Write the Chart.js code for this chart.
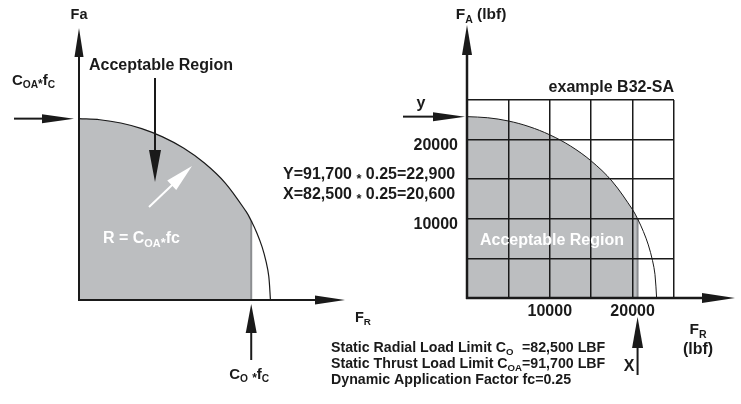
<!DOCTYPE html>
<html>
<head>
<meta charset="utf-8">
<title>Static load limits</title>
<script src="https://cdn.jsdelivr.net/npm/chart.js@4.4.1/dist/chart.umd.min.js"></script>
<style>
  body { margin: 0; background: #fff; }
  #wrap { position: relative; width: 741px; height: 404px; }
  canvas { position: absolute; left: 0; top: 0; }
</style>
</head>
<body>
<div id="wrap">
  <canvas id="sketchChart" width="741" height="404"></canvas>
  <canvas id="exampleChart" width="741" height="404"></canvas>
</div>
<script>
// limit curve, radial load F_R vs thrust load F_A (lbf)
const arcRadial = [0, 2500, 5000, 7500, 10000, 12500, 15000, 17500, 20000, 20600, 21300, 21900, 22400, 22700, 22900];
const arcAxial  = [22900, 22760, 22350, 21640, 20600, 19190, 17300, 14770, 11150, 10000, 8400, 6700, 4750, 3000, 0];

// B32-SA limits
const limitRadial = 20600;   // X = 82,500 * 0.25
const limitAxial = 22900;    // Y = 91,700 * 0.25

const radialTicks = [10000, 20000];
const axialTicks = [10000, 20000];

const INK = '#1a1a1a';
const SHADE = '#bcbec0';
const EDGE = '#8c8e91';
const FONT = '"Liberation Sans", Arial, Helvetica, sans-serif';

const arcPoints = arcRadial.map((x, i) => ({ x: x, y: arcAxial[i] }));
const shadedPoints = arcPoints.filter(p => p.x <= limitRadial);
const edgePoints = [{ x: limitRadial, y: 0 }, shadedPoints[shadedPoints.length - 1]];

function fontOf(size) {
  return 'bold ' + size + 'px ' + FONT;
}

// text with sub/superscript pieces: {t, s: scale, dy: shift in em}
function drawRich(ctx, parts, x, y, size, align, color) {
  let w = richWidth(ctx, parts, size);
  let cx = align === 'center' ? x - w / 2 : align === 'right' ? x - w : x;
  ctx.fillStyle = color;
  ctx.textAlign = 'left';
  ctx.textBaseline = 'middle';
  parts.forEach(p => {
    ctx.font = fontOf(size * (p.s || 1));
    ctx.fillText(p.t, cx, y + (p.dy || 0) * size);
    cx += ctx.measureText(p.t).width;
  });
  return w;
}

function richWidth(ctx, parts, size) {
  let w = 0;
  parts.forEach(p => { ctx.font = fontOf(size * (p.s || 1)); w += ctx.measureText(p.t).width; });
  return w;
}

const sub = t => ({ t: t, s: 0.68, dy: 0.3 });
const star = { t: '*', s: 0.8, dy: 0.25 };

function arrow(ctx, x1, y1, x2, y2, head, half, color, lw) {
  const a = Math.atan2(y2 - y1, x2 - x1);
  const bx = x2 - head * Math.cos(a), by = y2 - head * Math.sin(a);
  ctx.strokeStyle = color;
  ctx.lineWidth = lw;
  ctx.beginPath();
  ctx.moveTo(x1, y1);
  ctx.lineTo(bx + 2 * Math.cos(a), by + 2 * Math.sin(a));
  ctx.stroke();
  ctx.fillStyle = color;
  ctx.beginPath();
  ctx.moveTo(x2, y2);
  ctx.lineTo(bx - half * Math.sin(a), by + half * Math.cos(a));
  ctx.lineTo(bx + half * Math.sin(a), by - half * Math.cos(a));
  ctx.closePath();
  ctx.fill();
}

function limitDatasets(arcWidth) {
  return [
    { data: arcPoints, showLine: true, borderColor: INK, borderWidth: arcWidth,
      pointRadius: 0, tension: 0.35, fill: false, order: 1 },
    { data: edgePoints, showLine: true, borderColor: EDGE, borderWidth: 2,
      pointRadius: 0, tension: 0, fill: false, order: 2 },
    { data: shadedPoints, showLine: true, borderColor: 'rgba(0,0,0,0)', borderWidth: 0,
      pointRadius: 0, tension: 0.35, fill: 'origin', backgroundColor: SHADE, order: 3 }
  ];
}

const baseOptions = {
  responsive: false,
  animation: false,
  events: [],
  plugins: { legend: { display: false }, tooltip: { enabled: false } }
};

// left: general sketch of the acceptable region
const sketchNotes = {
  id: 'sketchNotes',
  afterDraw(chart) {
    const ctx = chart.ctx;
    const sx = chart.scales.x, sy = chart.scales.y;
    const x0 = sx.getPixelForValue(0), y0 = sy.getPixelForValue(0);
    const xLim = sx.getPixelForValue(limitRadial), yLim = sy.getPixelForValue(limitAxial);
    ctx.save();
    arrow(ctx, x0, y0 + 1, x0, 28, 29, 4.5, INK, 2);
    arrow(ctx, x0 - 1, y0, 345, y0, 30, 4.5, INK, 2);
    drawRich(ctx, [{ t: 'Fa' }], x0, 15, 14.5, 'center', INK);
    drawRich(ctx, [{ t: 'F' }, sub('R')], 355, 318, 14.5, 'left', INK);

    drawRich(ctx, [{ t: 'C' }, sub('OA'), star, { t: 'f' }, sub('C')], 12, 81, 15, 'left', INK);
    arrow(ctx, 14, yLim, x0 - 5, yLim, 32, 4.5, INK, 2);

    drawRich(ctx, [{ t: 'Acceptable Region' }], 161, 66, 16, 'center', INK);
    arrow(ctx, 155, 78, 155, 182, 32, 6, INK, 2);

    arrow(ctx, 149, 207, 192, 166, 28, 6.5, '#ffffff', 2);
    drawRich(ctx, [{ t: 'R = C' }, sub('OA'), star, { t: 'fc' }], 103, 239, 16, 'left', '#ffffff');

    arrow(ctx, xLim, 360, xLim, y0 + 4, 29, 5.5, INK, 2);
    drawRich(ctx, [{ t: 'C' }, sub('O'), { t: ' ' }, star, { t: 'f' }, sub('C')], xLim - 2, 375, 15, 'center', INK);
    ctx.restore();
  }
};

new Chart(document.getElementById('sketchChart'), {
  type: 'scatter',
  data: { datasets: limitDatasets(1.2) },
  options: Object.assign({}, baseOptions, {
    layout: { padding: { left: 79, right: 453, top: 102, bottom: 104 } },
    scales: {
      x: { type: 'linear', display: false, min: 0, max: 25000 },
      y: { type: 'linear', display: false, min: 0, max: 25000 }
    }
  }),
  plugins: [sketchNotes]
});

// right: worked example on a 5000 lbf grid
const exampleNotes = {
  id: 'exampleNotes',
  afterDraw(chart) {
    const ctx = chart.ctx;
    const sx = chart.scales.x, sy = chart.scales.y;
    const x0 = sx.getPixelForValue(0), y0 = sy.getPixelForValue(0);
    const xLim = sx.getPixelForValue(limitRadial), yLim = sy.getPixelForValue(limitAxial);
    const top = sy.getPixelForValue(sy.max), right = sx.getPixelForValue(sx.max);
    ctx.save();
    arrow(ctx, x0, y0 + 1, x0, 25, 30, 5, INK, 2.5);
    arrow(ctx, x0 - 1, y0, 735, y0, 33, 5, INK, 2.5);
    drawRich(ctx, [{ t: 'F' }, sub('A'), { t: ' (lbf)' }], x0 + 14, 15, 15.5, 'center', INK);
    drawRich(ctx, [{ t: 'F' }, sub('R')], 698, 330, 15.5, 'center', INK);
    drawRich(ctx, [{ t: '(lbf)' }], 698, 350, 16, 'center', INK);

    drawRich(ctx, [{ t: 'example B32-SA' }], right, top - 12, 16, 'right', INK);
    drawRich(ctx, [{ t: 'y' }], 421, 104, 16, 'center', INK);
    arrow(ctx, 403, yLim, x0 - 2, yLim, 32, 4.5, INK, 2);

    arrow(ctx, xLim, 375, xLim, 317, 31, 5.5, INK, 2);
    drawRich(ctx, [{ t: 'X' }], 629, 367, 16, 'center', INK);

    drawRich(ctx, [{ t: 'Acceptable Region' }], 552, 241, 16, 'center', '#ffffff');

    drawRich(ctx, [{ t: 'Y=91,700 ' }, star, { t: ' 0.25=22,900' }], 283, 175, 16, 'left', INK);
    drawRich(ctx, [{ t: 'X=82,500 ' }, star, { t: ' 0.25=20,600' }], 283, 195, 16, 'left', INK);

    const fs = 14.2, lx = 331;
    const eqAt = lx + richWidth(ctx, [{ t: 'Static Thrust Load Limit C' }, sub('OA')], fs);
    drawRich(ctx, [{ t: 'Static Radial Load Limit C' }, sub('O')], lx, 348, fs, 'left', INK);
    drawRich(ctx, [{ t: '=82,500 LBF' }], eqAt, 348, fs, 'left', INK);
    drawRich(ctx, [{ t: 'Static Thrust Load Limit C' }, sub('OA'), { t: '=91,700 LBF' }], lx, 364, fs, 'left', INK);
    drawRich(ctx, [{ t: 'Dynamic Application Factor fc=0.25' }], lx, 380, fs, 'left', INK);
    ctx.restore();
  }
};

new Chart(document.getElementById('exampleChart'), {
  type: 'scatter',
  data: { datasets: limitDatasets(1) },
  options: Object.assign({}, baseOptions, {
    layout: { padding: { left: 0, right: 67, top: 100, bottom: 0 } },
    scales: {
      x: {
        type: 'linear', min: 0, max: 25000,
        afterFit(scale) { scale.height = 106; },
        grid: { color: INK, lineWidth: 1.5, drawTicks: false, z: 1 },
        border: { display: false },
        ticks: {
          stepSize: 5000, padding: 4, maxRotation: 0, autoSkip: false, color: INK,
          font: { family: FONT, size: 16, weight: 'bold' },
          callback: v => radialTicks.includes(v) ? String(v) : ''
        }
      },
      y: {
        type: 'linear', min: 0, max: 25000,
        afterFit(scale) { scale.width = 467; },
        grid: { color: INK, lineWidth: 1.5, drawTicks: false, z: 1 },
        border: { display: false },
        ticks: {
          stepSize: 5000, padding: 9, labelOffset: 6, autoSkip: false, color: INK,
          font: { family: FONT, size: 16, weight: 'bold' },
          callback: v => axialTicks.includes(v) ? String(v) : ''
        }
      }
    }
  }),
  plugins: [exampleNotes]
});
</script>
</body>
</html>
